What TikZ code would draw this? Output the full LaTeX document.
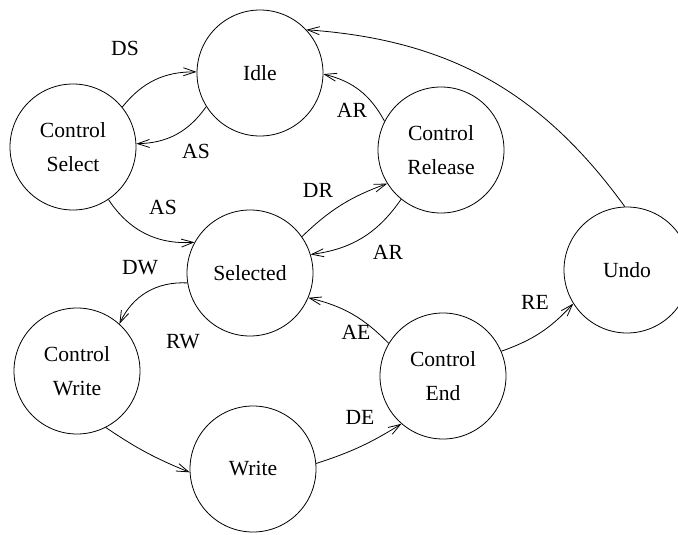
\documentclass[tikz,border=0pt]{standalone}
\usepackage{fontspec}
\setmainfont{Liberation Serif}
\newfontfamily\statefont{Liberation Serif}
\usetikzlibrary{arrows.meta}
\begin{document}
\begin{tikzpicture}[x=1pt,y=-1pt,
  state/.style={draw,circle,line width=0.8pt,minimum size=126pt,inner sep=0pt,
    align=center,font=\statefont\fontsize{21.6}{34}\selectfont},
  lbl/.style={inner sep=0pt,font=\statefont\fontsize{21.6}{26}\selectfont},
  arr/.style={line width=0.8pt,-{Straight Barb[length=12pt,width=8pt,line width=0.8pt]}}]
\useasboundingbox (0,0) rectangle (678,535);
\clip (0,0) rectangle (678,535);

% states
\node[state] (idle) at (260,73)  {Idle};
\node[state] (cs)   at (73,147)  {Control\\Select};
\node[state] (cr)   at (441,150) {Control\\Release};
\node[state] (sel)  at (250,273) {Selected};
\node[state] (undo) at (627,270) {Undo};
\node[state] (cw)   at (77,371)  {Control\\Write};
\node[state] (wr)   at (253,469) {Write};
\node[state] (ce)   at (443,376) {Control\\End};

% transitions
\draw[arr] (cs.39)   to[bend left=26]  (idle.179);
\draw[arr] (idle.212) to[bend left=27] (cs.3);
\draw[arr] (cs.304)  to[bend right=30] (sel.151);
\draw[arr] (sel.35)  to[bend left=12]  (cr.212);
\draw[arr] (cr.231)  to[bend left=24]  (sel.17);
\draw[arr] (cr.153)  to[bend right=24] (idle.359);
\draw[arr] (undo.92) to[bend right=25] (idle.43);
\draw[arr] (sel.189) to[bend right=34] (cw.48);
\draw[arr] (cw.297)  to[bend right=6]  (wr.183);
\draw[arr] (wr.5)    to[bend right=7]  (ce.229);
\draw[arr] (ce.149)  to[bend right=16] (sel.337);
\draw[arr] (ce.23)   to[bend right=14] (undo.212);

% transition labels
\node[lbl] (lDS)  at (125,48)  {DS};
\node[lbl] (lAS1) at (196,151) {AS};
\node[lbl] (lAS2) at (163,207) {AS};
\node[lbl] (lAR1) at (352,110) {AR};
\node[lbl] (lDR)  at (318,190) {DR};
\node[lbl] (lAR2) at (388,252) {AR};
\node[lbl] (lDW)  at (140,268) {DW};
\node[lbl] (lRW)  at (183,342) {RW};
\node[lbl] (lAE)  at (356,332) {AE};
\node[lbl] (lDE)  at (360,417) {DE};
\node[lbl] (lRE)  at (535,302) {RE};
\end{tikzpicture}
\end{document}
